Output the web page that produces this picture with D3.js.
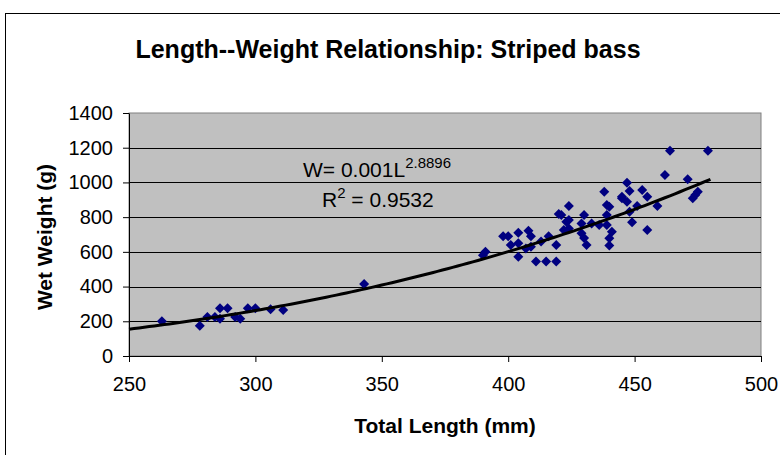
<!DOCTYPE html>
<html>
<head>
<meta charset="utf-8">
<script src="https://cdn.jsdelivr.net/npm/d3@7"></script>
<style>
  html, body { margin: 0; padding: 0; background: #fff; }
  svg { display: block; font-family: "Liberation Sans", Arial, sans-serif; }
</style>
</head>
<body>
<svg id="chart" width="780" height="455"></svg>
<script>
// ---- Data ----
const lengthMm = [
  263, 278, 281, 284, 286, 289, 286, 292, 294, 297, 300, 306, 311,
  343,
  391, 390, 398, 400, 404, 408, 401, 404, 404, 409, 409, 407, 411, 415, 419,
  413, 416, 419, 420, 422, 424, 424, 421, 423, 424,
  430, 429, 429, 430, 431, 433, 436, 439, 439, 440, 438, 441, 440, 440, 439,
  445, 448, 449, 447, 453, 455, 445, 447, 451, 459, 448, 455,
  462, 464, 471, 475, 474, 473, 479
];
const weightG = [
  200, 175, 225, 225, 275, 275, 215, 225, 215, 275, 275, 270, 265,
  415,
  600, 580, 690, 690, 710, 722, 640, 650, 572, 690, 630, 620, 545, 545, 545,
  660, 690, 640, 818, 726, 783, 864, 812, 774, 735,
  812, 764, 707, 680, 640, 764, 755, 755, 870, 860, 947, 716, 678, 636, 812,
  909, 950, 770, 998, 956, 918, 918, 889, 864, 864, 831, 726,
  1043, 1183, 1018, 947, 928, 909, 1183
];
const xTicks = [250, 300, 350, 400, 450, 500];
const yTicks = [0, 200, 400, 600, 800, 1000, 1200, 1400];
// Power trendline W = a * L^b (Excel power fit; exponent as labelled)
const trendCoef = 1.82e-5;
const trendExp = 2.8896;
const trendRange = [250, 480];

const titleText = "Length--Weight Relationship: Striped bass";
const xTitle = "Total Length (mm)";
const yTitle = "Wet Weight (g)";

// ---- Layout ----
const svg = d3.select("#chart");
const plotL = 129, plotR = 761, plotT = 113, plotB = 356;

const x = d3.scaleLinear().domain([250, 500]).range([plotL, plotR]);
const y = d3.scaleLinear().domain([0, 1400]).range([plotB, plotT]);

// outer chart frame
svg.append("rect")
  .attr("x", 5.5).attr("y", 13.5).attr("width", 900).attr("height", 600)
  .attr("fill", "#fff").attr("stroke", "#000").attr("stroke-width", 1);

// plot area background
svg.append("rect")
  .attr("x", plotL).attr("y", plotT).attr("width", plotR - plotL).attr("height", plotB - plotT)
  .attr("fill", "#c0c0c0").attr("stroke", "#808080").attr("stroke-width", 1);

// gridlines
svg.append("g")
  .selectAll("line")
  .data(yTicks.filter(d => d > 0 && d < 1400))
  .join("line")
  .attr("x1", plotL).attr("x2", plotR)
  .attr("y1", d => Math.round(y(d)) + 0.5).attr("y2", d => Math.round(y(d)) + 0.5)
  .attr("stroke", "#000").attr("stroke-width", 1);

// axes
const xAxis = d3.axisBottom(x).tickValues(xTicks).tickFormat(d3.format("d"))
  .tickSize(6).tickSizeOuter(0).tickPadding(15);
const yAxis = d3.axisLeft(y).tickValues(yTicks).tickFormat(d3.format("d"))
  .tickSize(6).tickSizeOuter(0).tickPadding(10);

const gx = svg.append("g").attr("transform", `translate(0,${plotB})`).call(xAxis);
const gy = svg.append("g").attr("transform", `translate(${plotL},0)`).call(yAxis);
[gx, gy].forEach(g => {
  g.select(".domain").attr("stroke", "#000");
  g.selectAll(".tick line").attr("stroke", "#000");
  g.selectAll(".tick text").attr("fill", "#000")
    .style("font-size", "20px").style("font-family", '"Liberation Sans", Arial, sans-serif');
});

// scatter points (diamonds)
const diamond = "M0,-5L5,0L0,5L-5,0Z";
svg.append("g")
  .selectAll("path")
  .data(lengthMm.map((L, i) => ({ L, W: weightG[i] })))
  .join("path")
  .attr("d", diamond)
  .attr("transform", d => `translate(${x(d.L)},${y(d.W)})`)
  .attr("fill", "#000080");

// trendline
const trendPts = d3.range(trendRange[0], trendRange[1] + 0.01, 2)
  .map(L => [L, trendCoef * Math.pow(L, trendExp)]);
svg.append("path")
  .datum(trendPts)
  .attr("d", d3.line().x(d => x(d[0])).y(d => y(d[1])))
  .attr("fill", "none").attr("stroke", "#000").attr("stroke-width", 3)
  .attr("stroke-linejoin", "round");

// equation labels
const eq = svg.append("text").attr("x", 303).attr("y", 177)
  .style("font-size", "21px").attr("fill", "#000");
eq.append("tspan").text("W= 0.001L");
eq.append("tspan").attr("dy", -9).style("font-size", "15px").text("2.8896");

const r2 = svg.append("text").attr("x", 322).attr("y", 207)
  .style("font-size", "21px").attr("fill", "#000");
r2.append("tspan").text("R");
r2.append("tspan").attr("dy", -9).style("font-size", "15px").text("2");
r2.append("tspan").attr("dy", 9).text(" = 0.9532");

// titles
svg.append("text").attr("x", 388).attr("y", 58).attr("text-anchor", "middle")
  .style("font-size", "25px").style("font-weight", "bold").text(titleText);
svg.append("text").attr("x", 445).attr("y", 433).attr("text-anchor", "middle")
  .style("font-size", "21px").style("font-weight", "bold").text(xTitle);
svg.append("text").attr("transform", "translate(52,237) rotate(-90)").attr("text-anchor", "middle")
  .style("font-size", "21px").style("font-weight", "bold").text(yTitle);
</script>
</body>
</html>
